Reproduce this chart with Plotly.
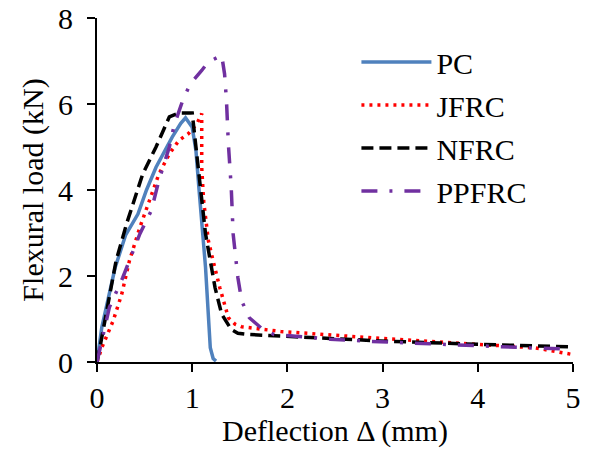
import plotly.graph_objects as go

pc_x = [0, 0.05, 0.19, 0.3, 0.43, 0.52, 0.62, 0.79, 0.88, 0.93, 1.0, 1.04, 1.07, 1.14, 1.19, 1.22, 1.25]
pc_y = [0, 0.8, 2.19, 2.95, 3.44, 4.0, 4.53, 5.23, 5.55, 5.68, 5.46, 4.9, 4.06, 2.2, 0.33, 0.08, 0.02]

jf_x = [0, 0.05, 0.17, 0.26, 0.34, 0.45, 0.55, 0.65, 0.76, 0.86, 0.96, 1.05, 1.10, 1.10, 1.12, 1.17, 1.22, 1.29, 1.38, 1.45, 1.52, 1.93, 2.97, 4.01, 4.6, 4.98]
jf_y = [0, 0.33, 0.96, 1.58, 2.35, 3.13, 3.75, 4.37, 4.84, 5.15, 5.31, 5.54, 5.78, 4.53, 3.75, 2.82, 2.35, 1.73, 1.03, 0.88, 0.82, 0.71, 0.55, 0.40, 0.33, 0.18]

nf_x = [0, 0.03, 0.2, 0.31, 0.48, 0.62, 0.76, 0.86, 1.0, 1.03, 1.09, 1.14, 1.24, 1.31, 1.41, 1.48, 1.59, 2.0, 2.97, 4.01, 4.98]
nf_y = [0, 0.33, 2.35, 3.21, 4.37, 5.0, 5.7, 5.79, 5.79, 5.15, 3.91, 2.98, 1.73, 1.11, 0.76, 0.67, 0.64, 0.59, 0.49, 0.41, 0.35]

pp_x = [0, 0.13, 0.27, 0.45, 0.57, 0.65, 0.76, 0.81, 0.90, 0.98, 1.10, 1.17, 1.31, 1.34, 1.36, 1.38, 1.41, 1.43, 1.48, 1.52, 1.60, 1.73, 1.86, 2.45, 2.97, 3.66, 4.53, 4.98]
pp_y = [0, 1.27, 1.96, 2.98, 3.52, 4.22, 5.0, 5.5, 6.08, 6.47, 6.78, 6.98, 7.13, 6.7, 6.08, 5.07, 4.06, 2.98, 1.96, 1.42, 1.03, 0.78, 0.64, 0.53, 0.47, 0.40, 0.33, 0.30]

x_ticks = [0, 1, 2, 3, 4, 5]
y_ticks = [0, 2, 4, 6, 8]

font = "Liberation Serif"
f30 = dict(family=font, size=30, color="black")

fig = go.Figure()
fig.add_trace(go.Scatter(x=pc_x, y=pc_y, name="PC", mode="lines", legendgroup="a",
                         line=dict(color="#4F81BD", width=3.5)))
fig.add_trace(go.Scatter(x=jf_x, y=jf_y, name="JFRC", mode="lines", legendgroup="b",
                         line=dict(color="#FF0000", width=3.5, dash="3px,5px")))
fig.add_trace(go.Scatter(x=nf_x, y=nf_y, name="NFRC", mode="lines", legendgroup="c",
                         line=dict(color="#000000", width=3.5, dash="12px,6px")))
fig.add_trace(go.Scatter(x=pp_x, y=pp_y, name="PPFRC", mode="lines", legendgroup="d",
                         line=dict(color="#7030A0", width=3.5, dash="16px,12px,3px,12px")))

fig.update_layout(
    width=581, height=446,
    margin=dict(l=89, r=16, t=10, b=92),
    paper_bgcolor="white", plot_bgcolor="white",
    font=f30,
    showlegend=True,
    legend=dict(x=0.545, y=0.948, xanchor="left", yanchor="top", itemwidth=70,
                bgcolor="rgba(0,0,0,0)", font=f30, tracegroupgap=1),
    xaxis=dict(range=[0, 5], tickvals=x_ticks,
               showgrid=False, zeroline=False,
               showline=True, linecolor="black", linewidth=2, automargin=False,
               ticks="outside", ticklen=8, tickcolor="black", tickwidth=2,
               ticklabeloverflow="allow",
               title=dict(text="Deflection Δ (mm)", standoff=0, font=f30),
               tickfont=f30),
    yaxis=dict(range=[0, 8], tickvals=y_ticks, showgrid=False, zeroline=False,
               showline=True, linecolor="black", linewidth=2, automargin=False,
               ticks="outside", ticklen=8, tickcolor="black", tickwidth=2,
               ticklabeloverflow="allow", ticklabelstandoff=8,
               title=dict(text="Flexural load (kN)", standoff=6, font=f30),
               tickfont=f30),
)

fig.write_html("out.html")
